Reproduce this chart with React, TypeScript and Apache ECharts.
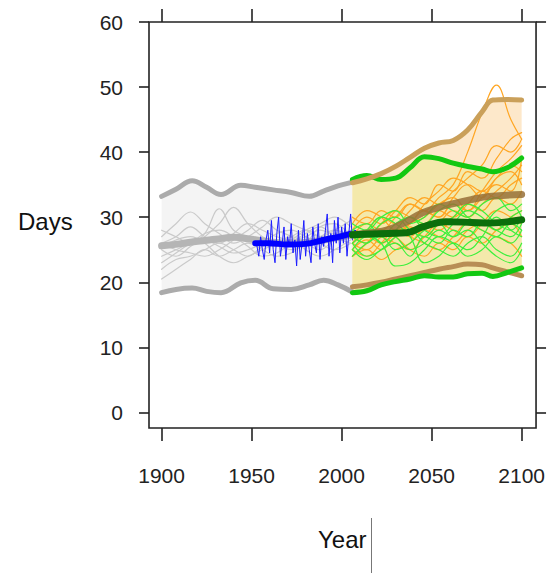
import React, { useEffect, useRef } from "react";
import * as echarts from "echarts";

// ---------- tick labels ----------
const xTicks = [1900, 1950, 2000, 2050, 2100];
const yTicks = [0, 10, 20, 30, 40, 50, 60];

// ---------- historical envelope (grey) ----------
const histYears = [1900, 1908, 1917, 1925, 1933, 1944, 1952, 1962, 1972, 1982, 1990, 1998, 2006];
const histUpper = [33.2, 34.3, 35.6, 34.6, 33.5, 34.9, 34.6, 34.2, 33.8, 33.2, 34.0, 34.8, 35.4];
const histLower = [18.4, 18.9, 19.1, 18.6, 18.4, 19.9, 20.3, 19.0, 18.9, 19.6, 20.3, 19.6, 18.5];

const histMeanYears = [1900, 1910, 1920, 1930, 1940, 1950, 1960, 1970, 1980, 1990, 2000, 2006];
const histMean = [25.6, 25.9, 26.3, 26.6, 26.9, 26.6, 26.2, 26.0, 26.1, 26.5, 27.0, 27.3];

// historical model runs (thin grey)
const runYears = [1900, 1908, 1916, 1924, 1932, 1940, 1948, 1956, 1964, 1972, 1980, 1988, 1996, 2005];
const greyRun1 = [26, 27, 28.5, 27, 26, 27.5, 29, 28, 27, 26.5, 27, 28, 27.5, 28];
const greyRun2 = [25, 24, 25.5, 27, 29, 31.5, 29, 27, 26, 25, 26, 28.5, 29, 27];
const greyRun3 = [22, 23.5, 24, 25, 26, 25, 24, 25.5, 26, 27, 26, 25, 26.5, 27.5];
const greyRun4 = [20.5, 22, 23.5, 25, 24, 25, 26, 25, 24, 24.5, 26, 27, 28, 27];
const greyRun5 = [27, 29, 30.8, 29, 27.5, 26, 27, 28.5, 30, 29, 28, 27, 28, 29.5];
const greyRun6 = [24, 25, 26, 26.5, 25.5, 24.5, 25, 26, 27.5, 28, 27, 26, 25, 26];
const greyRun7 = [28, 27, 26, 27.5, 31.3, 28, 27, 26, 25.5, 26.5, 28, 29, 30, 28.5];
const greyRun8 = [26, 25, 24.5, 24, 25, 26.5, 28, 29.5, 28, 27, 25, 24, 25, 26.5];
const greyRun9 = [23, 24.5, 26, 27.5, 28, 27, 25.5, 24, 24.5, 26, 27.5, 28.5, 27, 26];
const greyRun10 = [25.5, 26.5, 27, 26, 24, 23, 24, 25, 26, 27, 28, 27, 26.5, 27.5];
const greyRuns = [greyRun1, greyRun2, greyRun3, greyRun4, greyRun5, greyRun6, greyRun7, greyRun8, greyRun9, greyRun10];

// ---------- observations (blue) ----------
const obsYears = [
  1953, 1954, 1955, 1956, 1957, 1958, 1959, 1960, 1961, 1962, 1963, 1964, 1965, 1966, 1967, 1968, 1969, 1970,
  1971, 1972, 1973, 1974, 1975, 1976, 1977, 1978, 1979, 1980, 1981, 1982, 1983, 1984, 1985, 1986, 1987, 1988,
  1989, 1990, 1991, 1992, 1993, 1994, 1995, 1996, 1997, 1998, 1999, 2000, 2001, 2002, 2003, 2004, 2005, 2006,
];
const obsValues = [
  25.5, 24.0, 27.0, 25.0, 23.5, 26.5, 28.0, 24.5, 29.5, 25.0, 23.0, 27.5, 30.0, 24.0, 26.0, 28.5, 23.5, 27.0,
  25.5, 29.0, 24.5, 26.5, 22.5, 28.0, 23.5, 26.0, 29.5, 24.0, 27.5, 25.0, 23.0, 28.5, 26.0, 24.5, 29.0, 23.5,
  27.0, 25.5, 28.0, 30.5, 24.0, 27.5, 23.0, 29.5, 26.0, 30.0, 24.5, 28.5, 26.0, 29.0, 24.0, 27.5, 30.5, 26.5,
];
const obsSmoothYears = [1952, 1960, 1970, 1980, 1990, 2000, 2007];
const obsSmooth = [26.0, 26.0, 25.8, 25.9, 26.5, 27.1, 27.6];

// ---------- future envelopes ----------
const futYears = [2006, 2014, 2022, 2030, 2038, 2046, 2054, 2062, 2070, 2078, 2084, 2092, 2100];
const orangeUpper = [35.3, 35.9, 36.7, 37.8, 39.2, 40.6, 41.4, 41.8, 43.4, 46.2, 48.0, 48.1, 48.0];
const orangeLower = [19.3, 19.6, 20.0, 20.5, 21.0, 21.5, 22.0, 22.4, 22.8, 22.7, 22.2, 21.6, 21.0];
const greenUpper = [35.8, 36.4, 35.8, 36.0, 37.6, 39.3, 39.0, 38.3, 37.8, 37.4, 37.0, 37.6, 39.1];
const greenLower = [18.4, 18.7, 19.6, 20.1, 20.5, 21.0, 20.8, 20.8, 21.3, 21.4, 20.9, 21.5, 22.2];

const futMeanYears = [2006, 2016, 2026, 2036, 2045, 2058, 2072, 2082, 2100];
const orangeMean = [27.3, 27.6, 28.1, 29.3, 30.7, 31.8, 32.7, 33.2, 33.5];
const greenMean = [27.3, 27.4, 27.5, 27.6, 28.5, 29.3, 29.2, 29.1, 29.6];

// future model runs
const futRunYears = [2006, 2014, 2022, 2030, 2038, 2046, 2054, 2062, 2070, 2078, 2086, 2094, 2100];
const orangeRun1 = [27, 28, 30, 29, 31, 33, 32, 34, 36, 38, 41, 40, 42];
const orangeRun2 = [25, 26.5, 25, 27, 28.5, 27, 29, 31, 30, 32, 34, 36, 38];
const orangeRun3 = [28, 30, 29, 31, 33, 32, 35, 34, 37, 36, 39, 42, 43];
const orangeRun4 = [26, 25, 27, 28, 27, 29, 28, 30, 32, 31, 33, 32, 34];
const orangeRun5 = [27, 29, 28, 30, 32, 31, 33, 35, 40, 46, 50.3, 45, 42];
const orangeRun6 = [24, 25, 23.5, 25, 26, 28, 27, 26, 28, 29, 28, 30, 31];
const orangeRun7 = [27, 26, 28, 27, 29, 30, 32, 33, 31, 34, 37, 39, 41];
const orangeRun8 = [26, 28, 27, 26, 25, 27, 29, 28, 27, 29, 31, 30, 29];
const orangeRun9 = [30, 29, 31, 30, 32, 31, 30, 33, 35, 34, 36, 38, 37];
const orangeRun10 = [25, 24, 26, 28, 27, 26, 25, 27, 29, 28, 27, 26, 24];
const orangeRun11 = [28, 27, 29, 31, 30, 29, 31, 30, 32, 34, 33, 35, 36];
const orangeRun12 = [26, 27, 26, 27.5, 29, 31, 30, 32, 31, 33, 35, 34, 39];
const orangeRun13 = [24, 26, 28, 27, 25, 24, 26, 25, 27, 26, 28, 29, 27];
const orangeRun14 = [29, 31, 30, 28, 29, 32, 34, 36, 35, 33, 36, 37, 35];
const orangeRuns = [
  orangeRun1, orangeRun2, orangeRun3, orangeRun4, orangeRun5, orangeRun6, orangeRun7,
  orangeRun8, orangeRun9, orangeRun10, orangeRun11, orangeRun12, orangeRun13, orangeRun14,
];

const greenRun1 = [27, 26, 28, 27, 25, 26, 28, 27, 29, 28, 27, 29, 28];
const greenRun2 = [25, 27, 26, 22.5, 23, 25, 27, 26, 24, 25, 27, 26, 28];
const greenRun3 = [28, 29, 27, 29, 30, 28, 27, 29, 31, 30, 28, 30, 31];
const greenRun4 = [26, 24, 25, 27, 28, 26, 25, 24, 26, 27, 25, 24, 26];
const greenRun5 = [29, 28, 30, 31, 29, 30, 32, 31, 30, 32, 33, 31, 32];
const greenRun6 = [24, 26, 27, 25, 26, 28, 29, 27, 28, 26, 24, 23, 25];
const greenRun7 = [27, 28, 26, 28, 30, 29, 31, 32, 30, 29, 31, 32, 30];
const greenRun8 = [25, 23.5, 25, 26, 24, 27, 26, 28, 27, 29, 28, 27, 29];
const greenRun9 = [28, 27, 29, 30, 28, 27, 29, 30, 32, 31, 29, 28, 30];
const greenRun10 = [26, 28, 30, 29, 27, 23, 24, 26, 25, 27, 30, 28, 27];
const greenRuns = [
  greenRun1, greenRun2, greenRun3, greenRun4, greenRun5,
  greenRun6, greenRun7, greenRun8, greenRun9, greenRun10,
];

const FONT = "'Liberation Sans', Arial, Helvetica, sans-serif";

function pairs(xs: number[], ys: number[]) {
  return xs.map((x, i) => [x, ys[i]]);
}

function band(xs: number[], lo: number[], hi: number[], color: string): any {
  return {
    type: "custom",
    silent: true,
    clip: true,
    data: [[xs[0], lo[0]]],
    renderItem: (_params: any, api: any) => {
      const lower = xs.map((x, i) => api.coord([x, lo[i]]));
      const upper = xs.map((x, i) => api.coord([x, hi[i]])).reverse();
      return {
        type: "polygon",
        shape: { points: lower.concat(upper) },
        style: { fill: color, stroke: "none" },
      };
    },
  };
}

function line(xs: number[], ys: number[], color: string, width: number, smooth: number | boolean = 0.4): any {
  return {
    type: "line", data: pairs(xs, ys), smooth, symbol: "none", silent: true,
    lineStyle: { color, width, cap: "round", join: "round" },
  };
}

export default function App() {
  const ref = useRef<HTMLDivElement>(null);
  useEffect(() => {
    if (!ref.current) return;
    document.body.style.margin = "0";
    const chart = echarts.init(ref.current, null, { renderer: "svg" });

    const tickStyle = { color: "#222", width: 1.6 };
    const series: any[] = [
      band(histYears, histLower, histUpper, "#f4f4f4"),
      band(futYears, orangeLower, orangeUpper, "#fde8ca"),
      band(futYears, greenLower, greenUpper, "#f4e9ab"),
      ...greyRuns.map((r) => line(runYears, r, "#cacaca", 1.2)),
      line(histMeanYears, histMean, "#b5b5b5", 7),
      line(histYears, histUpper, "#ababab", 5),
      line(histYears, histLower, "#ababab", 5),
      line(obsYears, obsValues, "#1a1aff", 1, false),
      line(obsSmoothYears, obsSmooth, "#0000ff", 6),
      ...orangeRuns.map((r) => line(futRunYears, r, "#ffa623", 1.2)),
      ...greenRuns.map((r) => line(futRunYears, r, "#3cf03c", 1.2)),
      line(futYears, orangeLower, "#b88e55", 5),
      line(futYears, greenLower, "#12c812", 5),
      line(futYears, greenUpper, "#12c812", 5),
      line(futYears, orangeUpper, "#caa05a", 5),
      line(futMeanYears, orangeMean, "rgba(150,112,55,0.85)", 7),
      line(futMeanYears, greenMean, "#0b6e0b", 7),
    ];

    const fmt = (v: number) => String(v);

    chart.setOption({
      animation: false,
      grid: {
        left: 149, right: 11, top: 22, bottom: 149,
        show: true, borderColor: "#222", borderWidth: 1.6, backgroundColor: "transparent",
      },
      xAxis: [
        {
          type: "value", min: 1893, max: 2108, position: "bottom",
          axisLine: { show: false, onZero: false },
          axisTick: { show: true, inside: false, length: 13, lineStyle: tickStyle, customValues: xTicks },
          axisLabel: {
            show: true, customValues: xTicks, margin: 37, fontSize: 21, color: "#222", fontFamily: FONT,
            formatter: fmt,
          },
          splitLine: { show: false },
        },
        {
          type: "value", min: 1893, max: 2108, position: "top",
          axisLine: { show: false, onZero: false },
          axisTick: { show: true, inside: false, length: 13, lineStyle: tickStyle, customValues: xTicks },
          axisLabel: { show: false },
          splitLine: { show: false },
        },
      ],
      yAxis: [
        {
          type: "value", min: -2.4, max: 60, position: "left",
          axisLine: { show: false, onZero: false },
          axisTick: { show: true, inside: false, length: 10, lineStyle: tickStyle, customValues: yTicks },
          axisLabel: {
            show: true, customValues: yTicks, margin: 26, fontSize: 21, color: "#222", fontFamily: FONT,
            formatter: fmt,
          },
          splitLine: { show: false },
        },
        {
          type: "value", min: -2.4, max: 60, position: "right",
          axisLine: { show: false, onZero: false },
          axisTick: { show: true, inside: false, length: 10, lineStyle: tickStyle, customValues: yTicks },
          axisLabel: { show: false },
          splitLine: { show: false },
        },
      ],
      graphic: [
        {
          type: "text", left: 18, top: 209,
          style: { text: "Days", fontSize: 24, fontFamily: FONT, fill: "#111" },
        },
        {
          type: "text", left: 318, top: 527,
          style: { text: "Year", fontSize: 24, fontFamily: FONT, fill: "#111" },
        },
        {
          type: "line",
          shape: { x1: 371.5, y1: 518, x2: 371.5, y2: 573 },
          style: { stroke: "#777", lineWidth: 1 },
        },
      ],
      series,
    });
    return () => chart.dispose();
  }, []);

  return <div ref={ref} style={{ width: 548, height: 577 }} />;
}
